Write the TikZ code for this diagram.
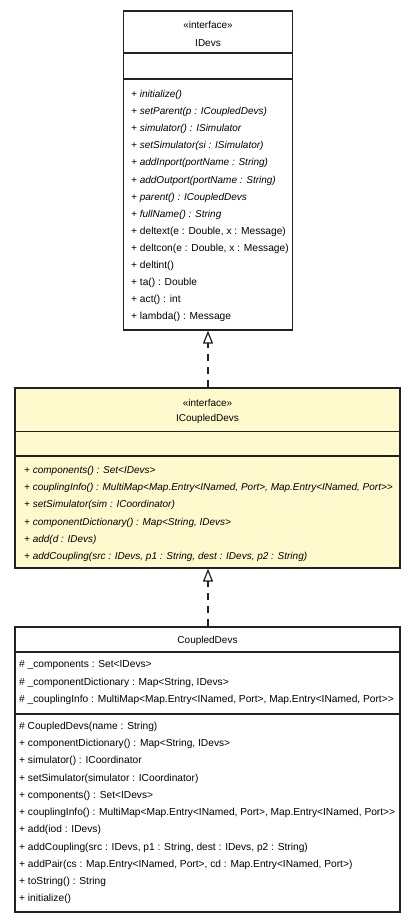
\documentclass[tikz,border=0pt]{standalone}
\usepackage{fontspec}
\setmainfont{Liberation Sans}[Ligatures=TeXOff]
\usetikzlibrary{arrows.meta}
\definecolor{ifill}{HTML}{FFFACD}
\definecolor{bline}{HTML}{222222}
\tikzset{
  umlbox/.style={draw=bline, line width=1.2pt, rectangle, inner sep=0pt},
  divline/.style={draw=bline, line width=1.2pt},
  mtxt/.style={anchor=base west, inner sep=0pt, font=\fontsize{10.2}{12}\selectfont},
  itxt/.style={mtxt, font=\fontsize{10}{12}\selectfont\itshape},
  stereo/.style={anchor=base, inner sep=0pt, font=\fontsize{10}{12}\selectfont},
  ttl/.style={anchor=base, inner sep=0pt, font=\fontsize{10}{12}\selectfont},
  realize/.style={draw=bline, line width=1.2pt, dash pattern=on 7pt off 6pt, -{Triangle[open, width=10pt, length=13pt, line width=1.2pt]}}
}
\begin{document}
\begin{tikzpicture}[x=1pt,y=-1pt]
\useasboundingbox[fill=white] (0,0) rectangle (416,921);
% IDevs
\node[umlbox, fill=white, minimum width=169.5pt, minimum height=319pt] (idevs) at (208,170.5) {};
\draw[divline] (123.25,53) -- (292.75,53);
\draw[divline] (123.25,79) -- (292.75,79);
\node[stereo] (idevsst) at (208,28) {«interface»};
\node[ttl] (idevsnm) at (208,46) {IDevs};
\foreach \t [count=\i from 0] in {
  {+ initialize()},
  {+ setParent(p : ICoupledDevs)},
  {+ simulator() : ISimulator},
  {+ setSimulator(si : ISimulator)},
  {+ addInport(portName : String)},
  {+ addOutport(portName : String)},
  {+ parent() : ICoupledDevs},
  {+ fullName() : String}}
  \node[itxt] (idm\i) at (131,97.5+17.1*\i) {\t};
\foreach \t [count=\i from 8] in {
  {+ deltext(e : Double, x : Message)},
  {+ deltcon(e : Double, x : Message)},
  {+ deltint()},
  {+ ta() : Double},
  {+ act() : int},
  {+ lambda() : Message}}
  \node[mtxt] (idm\i) at (131,97.5+17.1*\i) {\t};
% ICoupledDevs
\node[umlbox, fill=ifill, minimum width=385pt, minimum height=180pt] (icd) at (207.5,478) {};
\draw[divline] (15,431.7) -- (400,431.7);
\draw[divline] (15,456) -- (400,456);
\node[stereo] (icdst) at (207.5,406) {«interface»};
\node[ttl] (icdnm) at (207.5,421.8) {ICoupledDevs};
\foreach \t [count=\i from 0] in {
  {+ components() : Set<IDevs>},
  {+ couplingInfo() : MultiMap<Map.Entry<INamed, Port>, Map.Entry<INamed, Port>>},
  {+ setSimulator(sim : ICoordinator)},
  {+ componentDictionary() : Map<String, IDevs>},
  {+ add(d : IDevs)},
  {+ addCoupling(src : IDevs, p1 : String, dest : IDevs, p2 : String)}}
  \node[itxt] (icm\i) at (24,473.5+17.2*\i) {\t};
% CoupledDevs
\node[umlbox, fill=white, minimum width=385pt, minimum height=285pt] (cd) at (207.5,769.5) {};
\draw[divline] (15,652) -- (400,652);
\draw[divline] (15,714) -- (400,714);
\node[ttl] (cdnm) at (207.5,643.5) {CoupledDevs};
\foreach \t [count=\i from 0] in {
  {\# \_components : Set<IDevs>},
  {\# \_componentDictionary : Map<String, IDevs>},
  {\# \_couplingInfo : MultiMap<Map.Entry<INamed, Port>, Map.Entry<INamed, Port>>}}
  \node[mtxt] (cda\i) at (19,667.5+17.65*\i) {\t};
\foreach \t [count=\i from 0] in {
  {\# CoupledDevs(name : String)},
  {+ componentDictionary() : Map<String, IDevs>},
  {+ simulator() : ICoordinator},
  {+ setSimulator(simulator : ICoordinator)},
  {+ components() : Set<IDevs>},
  {+ couplingInfo() : MultiMap<Map.Entry<INamed, Port>, Map.Entry<INamed, Port>>},
  {+ add(iod : IDevs)},
  {+ addCoupling(src : IDevs, p1 : String, dest : IDevs, p2 : String)},
  {+ addPair(cs : Map.Entry<INamed, Port>, cd : Map.Entry<INamed, Port>)},
  {+ toString() : String},
  {+ initialize()}}
  \node[mtxt] (cdm\i) at (19,729.5+17.23*\i) {\t};
% realizations
\draw[realize] (icd.north -| idevs.south) -- (idevs.south);
\draw[realize] (cd.north -| idevs.south) -- (icd.south -| idevs.south);
\end{tikzpicture}
\end{document}
